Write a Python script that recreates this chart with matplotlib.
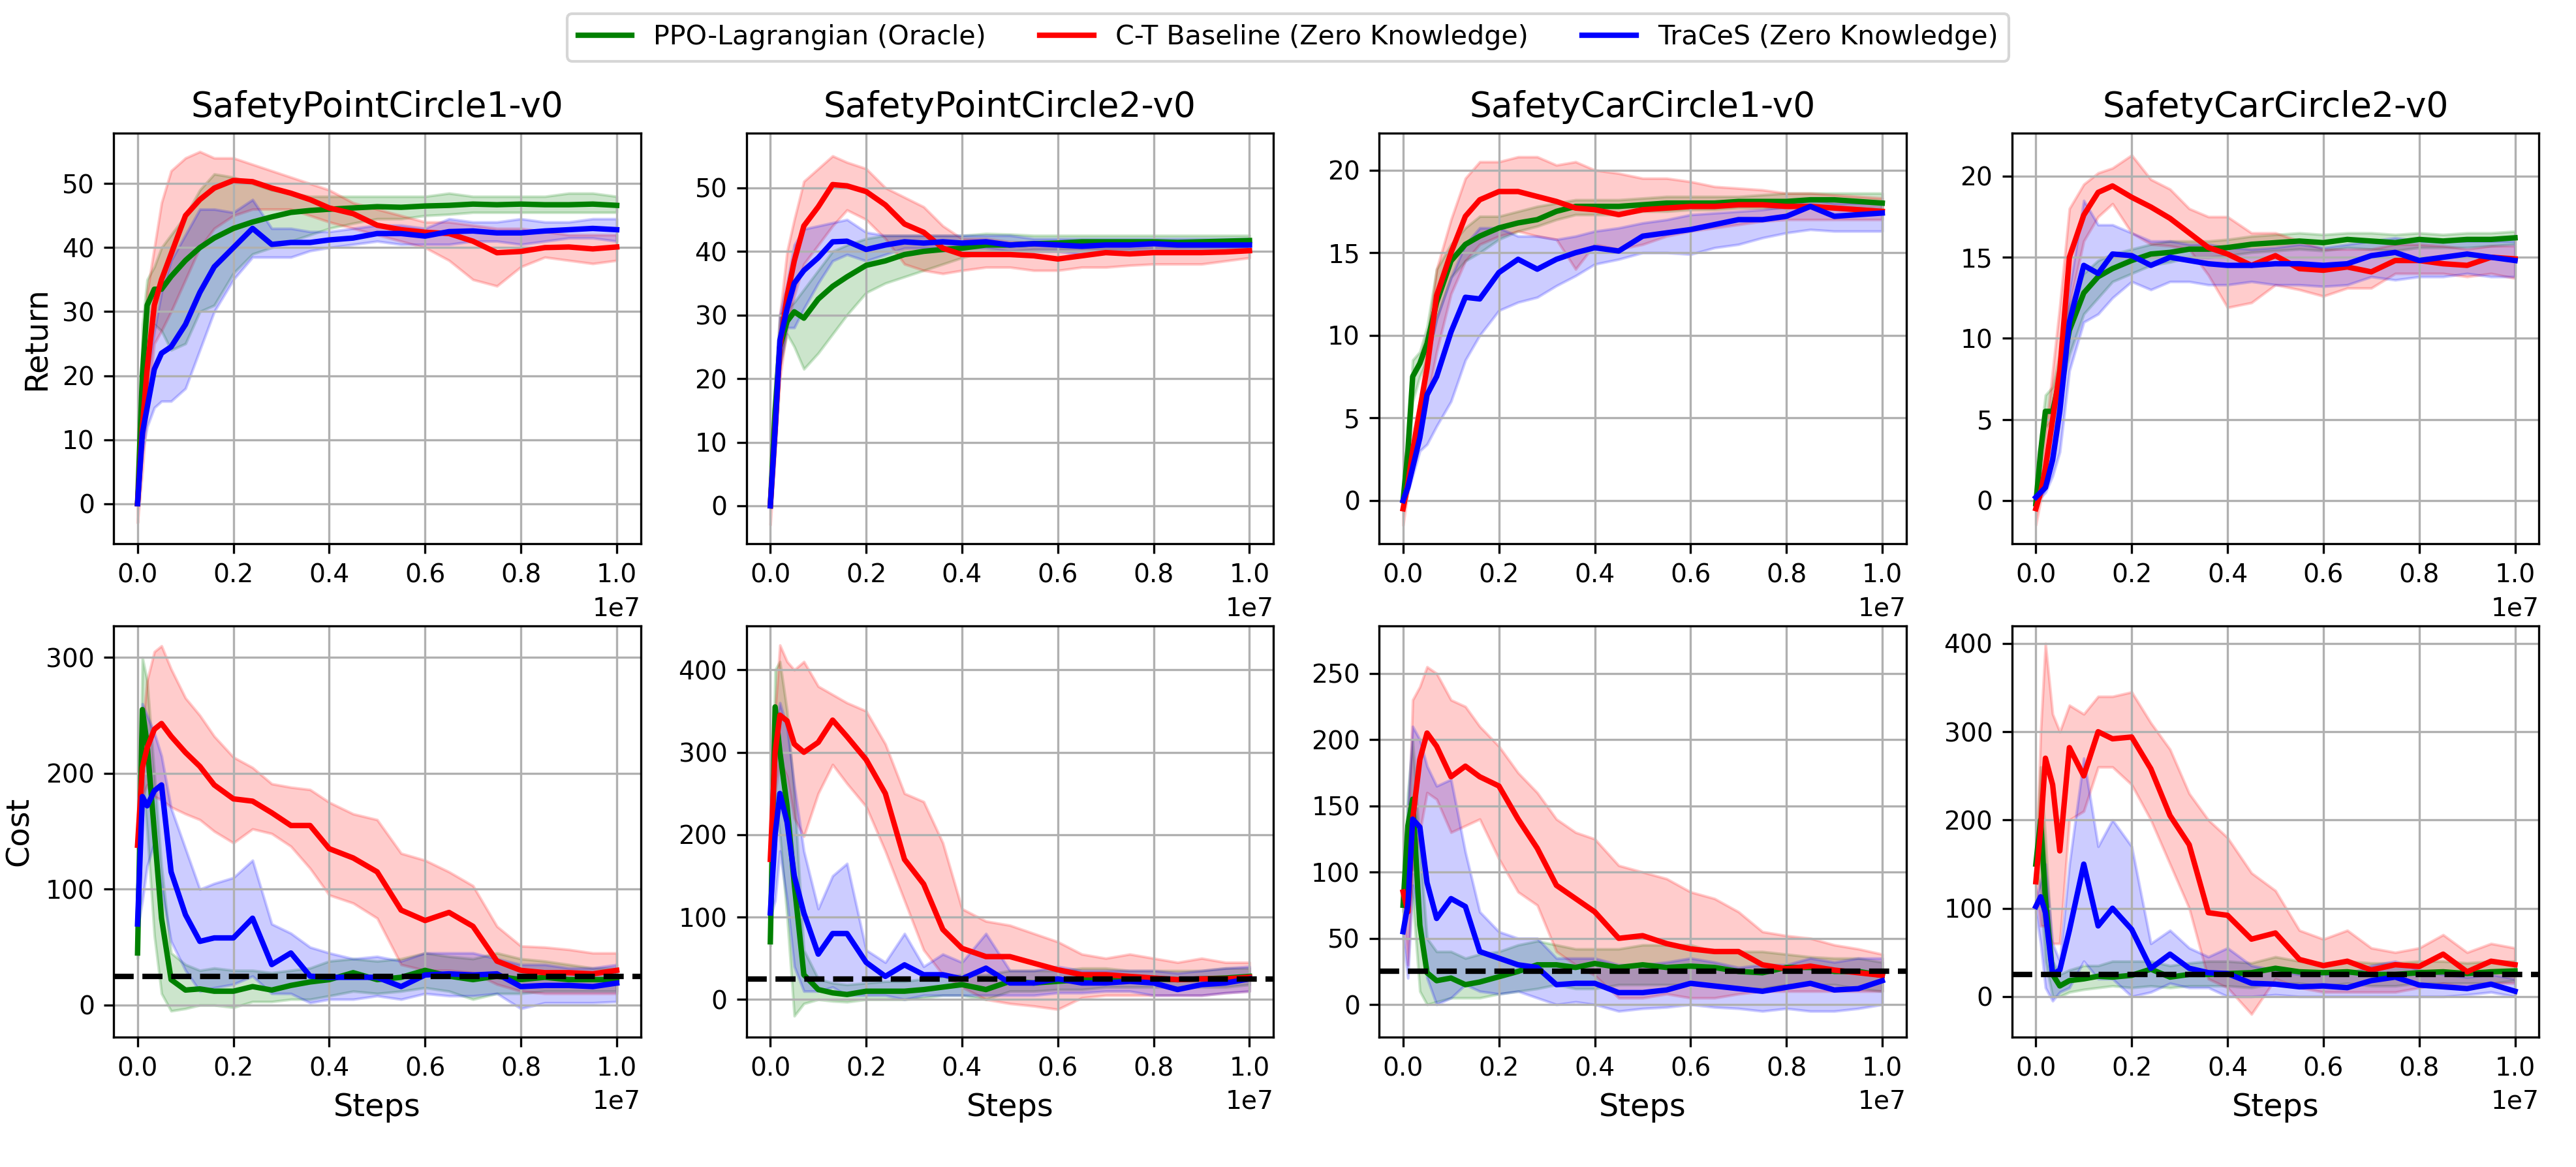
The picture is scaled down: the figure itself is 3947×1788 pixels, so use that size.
import numpy as np
import matplotlib
matplotlib.use("Agg")
import matplotlib.pyplot as plt

# environment steps (millions), shared by every curve
steps_m = [0, 0.1, 0.2, 0.35, 0.5, 0.7, 1.0, 1.3, 1.6, 2.0, 2.4, 2.8, 3.2, 3.6, 4.0,
           4.5, 5.0, 5.5, 6.0, 6.5, 7.0, 7.5, 8.0, 8.5, 9.0, 9.5, 10.0]

envs = ["SafetyPointCircle1-v0", "SafetyPointCircle2-v0", "SafetyCarCircle1-v0", "SafetyCarCircle2-v0"]
methods = ["PPO-Lagrangian (Oracle)", "C-T Baseline (Zero Knowledge)", "TraCeS (Zero Knowledge)"]
cost_limit = 25

# ---- SafetyPointCircle1 return ----
p1_ret_lag = [0, 20, 31, 33.5, 33.5, 35.5, 38, 40, 41.5, 43, 44, 44.8, 45.5, 45.8, 46, 46.2, 46.4, 46.3, 46.5, 46.6, 46.8, 46.7, 46.8, 46.7, 46.7, 46.8, 46.6]
p1_ret_lag_lo = [0, 12, 22, 28, 27, 24, 25, 30, 31, 36, 39, 40, 41, 42, 43, 43.8, 44.5, 44.5, 45, 45.2, 45.5, 45.5, 45.5, 45.5, 45.5, 45.5, 45.5]
p1_ret_lag_hi = [0, 28, 35, 37, 40, 42, 45, 49, 51.5, 51, 50, 49, 48.5, 48, 48, 48, 48, 48, 48, 48.5, 48, 48, 48, 48, 48.5, 48.5, 48]
p1_ret_ct = [0, 12, 21, 31, 35, 39, 45, 47.5, 49.3, 50.5, 50.3, 49.3, 48.5, 47.5, 46.2, 45.3, 43.5, 42.8, 42.4, 42.2, 41, 39.2, 39.4, 40, 40.1, 39.8, 40.1]
p1_ret_ct_lo = [-3, 5, 15, 25, 27, 30, 35, 40, 43, 45, 46, 46, 46, 45, 44, 43, 42, 41, 40, 38, 35, 34, 37, 38.5, 38, 37.5, 38]
p1_ret_ct_hi = [0, 22, 33, 40, 47, 52, 54, 55, 54, 54, 53, 52, 51, 50, 49, 47, 46, 45, 44, 44, 43.5, 43, 43, 42.5, 42, 42, 42]
p1_ret_tr = [0, 11, 15, 21, 23.5, 24.5, 28, 33, 37, 40, 43, 40.5, 40.8, 40.8, 41.2, 41.5, 42.2, 42.2, 41.8, 42.5, 42.6, 42.3, 42.3, 42.6, 42.8, 43, 42.8]
p1_ret_tr_lo = [0, 8, 12, 15, 16, 16, 18, 24, 30, 35, 38.5, 38.5, 38.5, 39.5, 40, 40.5, 41, 40.5, 40.5, 40.5, 41, 41, 40.5, 41, 41.5, 41.5, 41]
p1_ret_tr_hi = [0, 13, 20, 27, 33, 38, 42, 46, 46, 45.5, 47.5, 43, 43, 42.5, 42.5, 43, 43.5, 43.5, 43, 44.5, 44, 44, 44.5, 44, 44, 44.5, 44.5]

# ---- SafetyPointCircle1 cost ----
p1_cost_lag = [45, 255, 225, 150, 75, 22, 13, 14, 12, 12, 16, 13, 17, 20, 22, 28, 22, 24, 30, 25, 22, 25, 22, 24, 22, 22, 22]
p1_cost_lag_lo = [40, 200, 150, 60, 10, -5, -3, 0, 0, -2, 3, 3, 5, 5, 8, 12, 10, 12, 15, 12, 5, 10, 10, 12, 12, 12, 12]
p1_cost_lag_hi = [50, 300, 280, 200, 120, 45, 35, 30, 32, 30, 30, 28, 30, 32, 38, 40, 38, 40, 45, 42, 40, 45, 40, 38, 35, 32, 32]
p1_cost_ct = [138, 205, 222, 238, 243, 232, 218, 206, 190, 178, 176, 166, 155, 155, 135, 127, 115, 82, 73, 80, 68, 38, 30, 28, 28, 27, 30]
p1_cost_ct_lo = [135, 180, 190, 180, 177, 171, 165, 160, 150, 140, 152, 148, 137, 118, 95, 88, 75, 35, 30, 30, 28, 18, 12, 10, 10, 10, 10]
p1_cost_ct_hi = [140, 240, 280, 305, 310, 290, 265, 250, 232, 214, 205, 191, 188, 186, 175, 165, 160, 131, 125, 115, 103, 68, 51, 50, 48, 45, 45]
p1_cost_tr = [70, 180, 172, 185, 190, 115, 78, 55, 58, 58, 75, 35, 45, 25, 24, 24, 24, 16, 26, 27, 26, 27, 16, 17, 17, 16, 19]
p1_cost_tr_lo = [65, 90, 120, 140, 100, 55, 30, 12, 15, 18, 25, 10, 10, 2, 5, 5, 8, 5, 10, 8, 8, 10, -3, 2, 2, 2, 3]
p1_cost_tr_hi = [75, 260, 250, 235, 215, 170, 135, 100, 105, 110, 125, 70, 62, 50, 45, 40, 42, 38, 45, 45, 45, 40, 35, 35, 32, 32, 35]

# ---- SafetyPointCircle2 return ----
p2_ret_lag = [0, 15, 25, 29, 30.5, 29.5, 32.5, 34.5, 36, 37.8, 38.5, 39.5, 40, 40.3, 40.5, 41, 41, 41.2, 41.3, 41.5, 41.5, 41.5, 41.5, 41.4, 41.5, 41.6, 41.7]
p2_ret_lag_lo = [0, 10, 22, 27, 25, 21.5, 24, 27, 30, 33.5, 35, 36, 37, 38, 39, 40, 40, 40.3, 40.3, 40.3, 40.3, 40.3, 40.5, 40.5, 40.5, 40.5, 40.5]
p2_ret_lag_hi = [0, 20, 30, 31, 32, 34, 37, 40, 41, 42, 42.5, 42.5, 42.5, 42.5, 42.5, 42.8, 42.7, 42.5, 42.5, 42.5, 42.5, 42.5, 42.5, 42.5, 42.5, 42.5, 42.5]
p2_ret_ct = [0, 12, 25, 33, 38.5, 44, 47, 50.5, 50.3, 49.4, 47.3, 44.3, 43, 40.5, 39.5, 39.5, 39.5, 39.3, 38.8, 39.3, 39.8, 39.6, 39.8, 39.8, 39.8, 39.9, 40.1]
p2_ret_ct_lo = [-3, 8, 20, 28, 33, 38, 41, 44, 46.5, 45, 42, 38, 37, 36.5, 37, 37.5, 37.5, 37, 37, 37.5, 37.5, 37.8, 38, 38, 38, 38.5, 39]
p2_ret_ct_hi = [0, 15, 30, 40, 45, 51, 53, 55, 54, 53, 50, 48.5, 47, 44, 42, 42, 41.5, 41.5, 41, 41, 41, 41, 41.5, 41.5, 41.5, 41.5, 41.5]
p2_ret_tr = [0, 12, 26, 31, 35, 37, 39, 41.5, 41.6, 40.3, 41, 41.5, 41.3, 41.5, 41.3, 41.5, 41, 41.2, 41, 40.8, 41, 41, 41.2, 41, 41, 41, 41]
p2_ret_tr_lo = [0, 10, 22, 28, 28, 31, 35, 38.5, 39.5, 38.5, 39.5, 40.5, 40.5, 40.5, 40.5, 40.5, 40, 40, 40, 39.5, 40, 40, 40, 40, 40, 40, 40]
p2_ret_tr_hi = [0, 15, 30, 35, 41, 43.5, 44, 44.5, 45, 43, 42.5, 42.5, 42.5, 42.5, 42.5, 42.5, 42.5, 42, 42, 42, 42, 42, 42, 42, 42, 42, 42]

# ---- SafetyPointCircle2 cost ----
p2_cost_lag = [70, 355, 300, 235, 140, 30, 12, 8, 6, 10, 10, 10, 12, 15, 18, 12, 22, 20, 22, 24, 25, 24, 25, 24, 25, 26, 28]
p2_cost_lag_lo = [65, 250, 200, 100, -20, -5, 0, -2, -3, 0, 0, 0, 2, 5, 5, 0, 10, 10, 12, 12, 15, 15, 15, 15, 15, 15, 18]
p2_cost_lag_hi = [75, 400, 410, 350, 250, 60, 25, 20, 18, 20, 22, 22, 25, 28, 30, 30, 35, 35, 35, 38, 38, 35, 35, 35, 35, 38, 38]
p2_cost_ct = [170, 300, 345, 338, 310, 300, 312, 339, 319, 291, 250, 170, 140, 85, 62, 52, 52, 44, 36, 30, 30, 28, 26, 24, 25, 25, 27]
p2_cost_ct_lo = [170, 250, 290, 270, 220, 198, 250, 285, 262, 234, 180, 120, 60, 30, 15, 0, -5, -8, -12, 2, 5, 5, 5, 5, 5, 8, 10]
p2_cost_ct_hi = [170, 350, 430, 410, 400, 410, 380, 370, 360, 350, 310, 250, 240, 190, 110, 95, 90, 80, 70, 55, 50, 55, 50, 45, 50, 45, 45]
p2_cost_tr = [105, 200, 250, 215, 150, 105, 55, 80, 80, 45, 28, 42, 30, 30, 25, 38, 20, 20, 25, 20, 20, 22, 20, 12, 18, 20, 25]
p2_cost_tr_lo = [100, 120, 180, 120, 40, 10, 10, 15, 5, 5, 5, 0, 5, 5, 5, 5, 5, 5, 8, 8, 10, 10, 5, 5, 5, 8, 10]
p2_cost_tr_hi = [110, 330, 360, 330, 260, 180, 110, 150, 165, 60, 45, 80, 40, 55, 45, 80, 35, 35, 40, 35, 35, 35, 35, 32, 35, 38, 40]

# ---- SafetyCarCircle1 return ----
c1_ret_lag = [0, 3, 7.5, 8.3, 9.5, 12, 14.5, 15.5, 16, 16.5, 16.8, 17, 17.5, 17.8, 17.8, 17.8, 17.9, 18, 18, 18, 18.1, 18.1, 18.1, 18.2, 18.2, 18.1, 18]
c1_ret_lag_lo = [0, 2, 6, 7.5, 8.5, 11, 13.5, 14.5, 15, 15.8, 16.3, 16.6, 17, 17.3, 17.3, 17.3, 17.5, 17.5, 17.6, 17.6, 17.7, 17.7, 17.7, 17.8, 17.8, 17.7, 17.6]
c1_ret_lag_hi = [0, 4, 8.5, 9, 10.5, 14, 15.5, 16.5, 17.2, 17.2, 17.5, 17.8, 18, 18.2, 18.2, 18.2, 18.3, 18.4, 18.4, 18.4, 18.4, 18.5, 18.6, 18.6, 18.6, 18.6, 18.6]
c1_ret_ct = [-0.5, 1, 3, 5.5, 8, 12.4, 15, 17.2, 18.2, 18.7, 18.7, 18.4, 18.1, 17.7, 17.6, 17.3, 17.6, 17.7, 17.8, 17.8, 17.9, 17.9, 17.8, 17.8, 17.7, 17.6, 17.5]
c1_ret_ct_lo = [-1.5, 0.5, 2, 4, 6, 9, 12.5, 14.5, 15.5, 16, 16.3, 16, 15.8, 14, 15.5, 15.2, 15.5, 16, 16.3, 16.5, 16.7, 16.9, 17, 17, 17, 17, 17]
c1_ret_ct_hi = [-0.3, 1.5, 4, 6, 9.5, 14, 17, 19.5, 20.5, 20.5, 20.8, 20.8, 20.3, 20.5, 20, 19.8, 19.5, 19.5, 19.3, 19, 18.9, 18.8, 18.6, 18.6, 18.5, 18.4, 18.3]
c1_ret_tr = [0, 0.8, 2, 3.8, 6.4, 7.5, 10.2, 12.3, 12.2, 13.8, 14.6, 14, 14.6, 15, 15.3, 15.1, 16, 16.2, 16.4, 16.7, 17, 17, 17.2, 17.8, 17.2, 17.3, 17.4]
c1_ret_tr_lo = [0, 0.5, 1.5, 3, 3.4, 4.5, 6, 8.5, 10, 11.5, 12, 12.3, 13, 13.6, 14.3, 14.6, 15, 15, 14.9, 15.3, 15.5, 15.9, 16.2, 16.4, 16.3, 16.3, 16.3]
c1_ret_tr_hi = [0, 1, 2.5, 5, 8.5, 11, 13.5, 15.5, 16.5, 16.5, 16, 16, 15.8, 16, 16.3, 16.5, 16.8, 17, 17.3, 17.4, 17.5, 17.6, 17.8, 18.2, 18, 18, 18]

# ---- SafetyCarCircle1 cost ----
c1_cost_lag = [75, 135, 155, 60, 24, 18, 20, 15, 17, 21, 25, 30, 30, 28, 31, 28, 30, 28, 29, 28, 25, 24, 28, 28, 25, 25, 22]
c1_cost_lag_lo = [70, 100, 80, 10, 0, 2, 5, 5, 5, 8, 10, 12, 15, 12, 12, 15, 15, 15, 15, 15, 12, 12, 15, 15, 15, 12, 10]
c1_cost_lag_hi = [80, 160, 200, 120, 50, 40, 40, 35, 38, 40, 45, 48, 45, 42, 42, 42, 45, 45, 45, 40, 40, 40, 38, 36, 35, 35, 32]
c1_cost_ct = [85, 70, 140, 185, 205, 195, 172, 180, 172, 165, 140, 118, 90, 80, 70, 50, 52, 46, 42, 40, 40, 30, 27, 29, 26, 24, 22]
c1_cost_ct_lo = [80, 30, 100, 130, 160, 155, 130, 135, 140, 110, 85, 75, 40, 30, 22, 5, 5, 8, 5, 5, 8, 10, 10, 10, 10, 10, 10]
c1_cost_ct_hi = [85, 120, 230, 240, 255, 250, 230, 225, 210, 195, 175, 160, 140, 130, 125, 105, 100, 95, 85, 80, 70, 55, 52, 50, 45, 42, 38]
c1_cost_tr = [55, 75, 140, 134, 92, 65, 80, 74, 40, 35, 30, 28, 15, 16, 16, 9, 9, 11, 16, 14, 12, 10, 13, 16, 11, 12, 18]
c1_cost_tr_lo = [50, 20, 90, 60, 20, 0, 5, 15, 10, 8, 10, 5, 0, 2, 0, -5, -3, -2, 0, -2, -3, -5, -3, -5, -5, -3, 0]
c1_cost_tr_hi = [60, 150, 210, 200, 180, 165, 170, 115, 70, 55, 50, 50, 35, 35, 35, 30, 30, 32, 35, 32, 28, 30, 30, 35, 32, 35, 35]

# ---- SafetyCarCircle2 return ----
c2_ret_lag = [-0.2, 3, 5.5, 5.5, 7.5, 10.5, 12.8, 13.8, 14.3, 14.8, 15.2, 15.3, 15.5, 15.5, 15.6, 15.8, 15.9, 16, 15.9, 16.1, 16, 15.9, 16.1, 16, 16.1, 16.1, 16.2]
c2_ret_lag_lo = [-0.3, 2, 4.5, 5, 6.5, 9, 11.5, 12.5, 13.5, 14, 14.5, 14.7, 15, 15, 15.1, 15.3, 15.4, 15.5, 15.4, 15.6, 15.5, 15.4, 15.6, 15.6, 15.6, 15.7, 15.8]
c2_ret_lag_hi = [0, 4, 6.5, 7, 9, 12, 14, 14.8, 15.2, 15.5, 15.8, 16, 16, 16, 16.1, 16.3, 16.4, 16.5, 16.4, 16.5, 16.5, 16.4, 16.5, 16.4, 16.5, 16.5, 16.6]
c2_ret_ct = [-0.5, 0.5, 2, 5, 8, 15, 17.6, 19, 19.4, 18.7, 18.1, 17.4, 16.5, 15.6, 15.2, 14.5, 15.1, 14.3, 14.2, 14.4, 14.1, 14.8, 14.8, 14.6, 14.5, 15, 14.9]
c2_ret_ct_lo = [-1.5, 0, 1, 3, 6, 12, 16, 17.5, 18.3, 16.5, 15.8, 15.7, 15.5, 13.9, 11.9, 12.2, 13.3, 13, 12.6, 13.1, 13.1, 14, 14, 14, 13.8, 14, 13.7]
c2_ret_ct_hi = [-0.3, 1.5, 4, 8, 12, 18, 19.5, 20.2, 20.5, 21.3, 19.8, 19.2, 18, 17.5, 17.5, 16.5, 16.5, 16, 15.5, 15.5, 15.5, 15.8, 15.8, 15.7, 15.5, 15.7, 15.7]
c2_ret_tr = [0.2, 0.5, 0.8, 2.5, 5.5, 11, 14.5, 14, 15.2, 15.1, 14.5, 15, 14.8, 14.6, 14.5, 14.5, 14.6, 14.6, 14.5, 14.6, 15.1, 15.3, 14.8, 15, 15.2, 15, 14.8]
c2_ret_tr_lo = [0, 0.2, 0.5, 1.5, 3, 8, 11, 11.5, 12.5, 13.5, 13, 13.5, 13.5, 13.3, 13.3, 13.5, 13.3, 13.3, 13.2, 13.3, 13.8, 13.6, 13.8, 13.8, 14, 13.8, 13.8]
c2_ret_tr_hi = [0.3, 0.8, 1.2, 3.5, 8, 13, 18.5, 17, 17, 16.5, 16, 16, 15.8, 15.8, 15.6, 15.5, 15.6, 15.8, 15.6, 15.8, 16, 16.2, 16, 16, 16, 16, 16]

# ---- SafetyCarCircle2 cost ----
c2_cost_lag = [150, 200, 110, 25, 12, 18, 20, 23, 22, 24, 31, 22, 25, 25, 26, 27, 32, 28, 27, 28, 25, 25, 27, 28, 26, 28, 29]
c2_cost_lag_lo = [145, 120, 40, 0, 0, 5, 8, 10, 12, 10, 12, 10, 12, 12, 12, 10, 15, 15, 12, 15, 12, 12, 15, 15, 15, 15, 18]
c2_cost_lag_hi = [155, 260, 180, 40, 25, 30, 35, 35, 40, 40, 40, 35, 38, 40, 40, 38, 45, 40, 38, 40, 38, 38, 40, 40, 38, 40, 40]
c2_cost_ct = [130, 190, 270, 240, 165, 282, 250, 300, 292, 294, 258, 205, 172, 95, 92, 65, 72, 42, 35, 40, 30, 36, 34, 48, 28, 40, 36]
c2_cost_ct_lo = [125, 80, 80, 60, 60, 200, 210, 260, 260, 240, 200, 150, 100, 20, 10, -20, 20, 10, 5, 5, 5, 5, 10, 15, 10, 15, 15]
c2_cost_ct_hi = [135, 300, 400, 320, 300, 330, 320, 340, 340, 345, 310, 280, 230, 200, 180, 140, 120, 75, 65, 75, 55, 50, 55, 70, 50, 60, 55]
c2_cost_tr = [102, 113, 95, 25, 30, 75, 150, 80, 100, 76, 32, 48, 32, 27, 26, 15, 14, 11, 12, 10, 18, 22, 13, 11, 9, 14, 6]
c2_cost_tr_lo = [95, 60, 10, -5, 5, 10, 40, 20, 20, 0, 5, 15, 10, 10, 0, 0, 2, 0, 0, 0, 0, 0, 0, 0, 2, 5, 0]
c2_cost_tr_hi = [110, 130, 150, 60, 40, 150, 270, 170, 200, 170, 60, 75, 55, 45, 55, 35, 30, 25, 25, 25, 35, 40, 30, 25, 22, 25, 20]

returns = [
    [(p1_ret_lag, p1_ret_lag_lo, p1_ret_lag_hi), (p1_ret_ct, p1_ret_ct_lo, p1_ret_ct_hi), (p1_ret_tr, p1_ret_tr_lo, p1_ret_tr_hi)],
    [(p2_ret_lag, p2_ret_lag_lo, p2_ret_lag_hi), (p2_ret_ct, p2_ret_ct_lo, p2_ret_ct_hi), (p2_ret_tr, p2_ret_tr_lo, p2_ret_tr_hi)],
    [(c1_ret_lag, c1_ret_lag_lo, c1_ret_lag_hi), (c1_ret_ct, c1_ret_ct_lo, c1_ret_ct_hi), (c1_ret_tr, c1_ret_tr_lo, c1_ret_tr_hi)],
    [(c2_ret_lag, c2_ret_lag_lo, c2_ret_lag_hi), (c2_ret_ct, c2_ret_ct_lo, c2_ret_ct_hi), (c2_ret_tr, c2_ret_tr_lo, c2_ret_tr_hi)],
]
costs = [
    [(p1_cost_lag, p1_cost_lag_lo, p1_cost_lag_hi), (p1_cost_ct, p1_cost_ct_lo, p1_cost_ct_hi), (p1_cost_tr, p1_cost_tr_lo, p1_cost_tr_hi)],
    [(p2_cost_lag, p2_cost_lag_lo, p2_cost_lag_hi), (p2_cost_ct, p2_cost_ct_lo, p2_cost_ct_hi), (p2_cost_tr, p2_cost_tr_lo, p2_cost_tr_hi)],
    [(c1_cost_lag, c1_cost_lag_lo, c1_cost_lag_hi), (c1_cost_ct, c1_cost_ct_lo, c1_cost_ct_hi), (c1_cost_tr, c1_cost_tr_lo, c1_cost_tr_hi)],
    [(c2_cost_lag, c2_cost_lag_lo, c2_cost_lag_hi), (c2_cost_ct, c2_cost_ct_lo, c2_cost_ct_hi), (c2_cost_tr, c2_cost_tr_lo, c2_cost_tr_hi)],
]

colors = ["green", "red", "blue"]
ret_ylims = [(-6.3, 57.9), (-6.0, 58.6), (-2.63, 22.24), (-2.68, 22.66)]
cost_ylims = [(-27.6, 327), (-45.7, 453), (-24.6, 285.7), (-46, 419.6)]
ret_yticks = [np.arange(0, 51, 10), np.arange(0, 51, 10), np.arange(0, 21, 5), np.arange(0, 21, 5)]
cost_yticks = [np.arange(0, 301, 100), np.arange(0, 401, 100), np.arange(0, 251, 50), np.arange(0, 401, 100)]

plt.rcParams["xtick.labelsize"] = 9.4
plt.rcParams["ytick.labelsize"] = 9.4

x = np.array(steps_m) * 1e6

fig, axes = plt.subplots(2, 4, figsize=(13.157, 5.96), dpi=300)
fig.subplots_adjust(left=0.0441, right=0.9856, bottom=0.1113, top=0.886, wspace=0.2005, hspace=0.2)

for col in range(4):
    ax_r = axes[0, col]
    ax_c = axes[1, col]
    for k in range(3):
        m, lo, hi = returns[col][k]
        ax_r.plot(x, m, color=colors[k], linewidth=2, label=methods[k])
        ax_r.fill_between(x, lo, hi, color=colors[k], alpha=0.2)
        m, lo, hi = costs[col][k]
        ax_c.plot(x, m, color=colors[k], linewidth=2)
        ax_c.fill_between(x, lo, hi, color=colors[k], alpha=0.2)
    ax_c.axhline(cost_limit, color="black", linestyle="--", linewidth=2)

    ax_r.set_title(envs[col], fontsize=12.8)
    ax_r.set_ylim(*ret_ylims[col])
    ax_c.set_ylim(*cost_ylims[col])
    ax_r.set_yticks(ret_yticks[col])
    ax_c.set_yticks(cost_yticks[col])
    ax_c.set_xlabel("Steps", fontsize=11.5)
    for ax in (ax_r, ax_c):
        ax.grid(True)
        ax.xaxis.get_offset_text().set_fontsize(9.4)

axes[0, 0].set_ylabel("Return", fontsize=11.5)
axes[1, 0].set_ylabel("Cost", fontsize=11.5)

handles, labels = axes[0, 0].get_legend_handles_labels()
fig.legend(handles, labels, loc="center", bbox_to_anchor=(0.5, 0.968), ncol=3, fontsize=9.9)

fig.savefig("out.png", dpi=300)
